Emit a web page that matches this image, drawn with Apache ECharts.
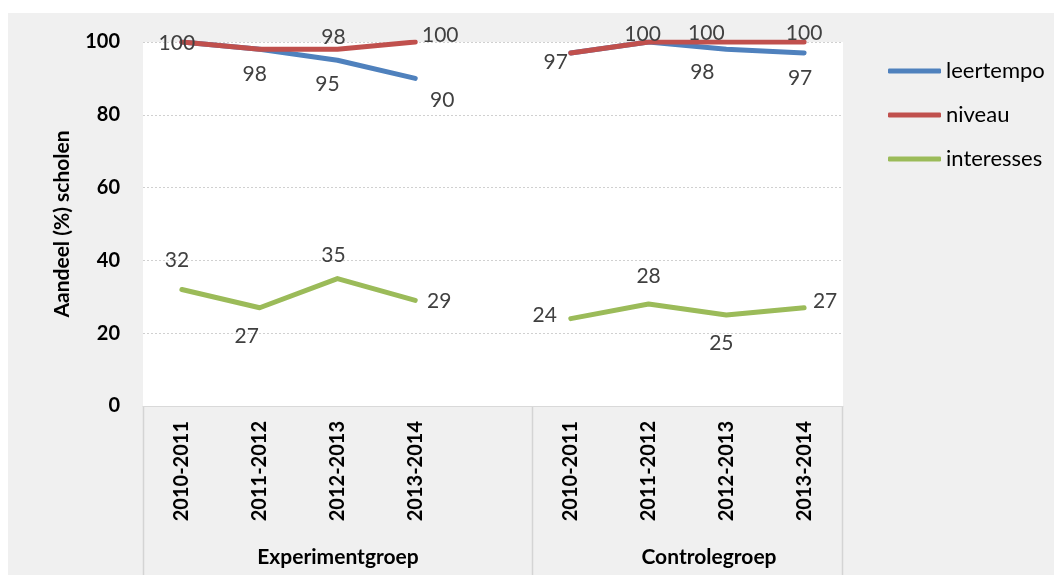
<!DOCTYPE html>
<html><head><meta charset="utf-8">
<script src="https://cdn.jsdelivr.net/npm/echarts@6/dist/echarts.min.js"></script>
<style>
html,body{margin:0;padding:0;background:#fff}
#bg{position:absolute;left:8px;top:13px;width:1046px;height:562px;background:#f0f0f0}
#c{position:absolute;left:0;top:0;width:1054px;height:578px}
</style>
</head><body><div id="bg"></div><div id="c"></div>
<script>
// ---- data ----
const categories = ['2010-2011','2011-2012','2012-2013','2013-2014','','2010-2011','2011-2012','2012-2013','2013-2014'];
const groups = ['Experimentgroep','Controlegroep'];
const seriesNames = ['leertempo','niveau','interesses'];
const leertempo  = [100, 98, 95, 90, null, 97, 100, 98, 97];
const niveau     = [100, 98, 98, 100, null, 97, 100, 100, 100];
const interesses = [32, 27, 35, 29, null, 24, 28, 25, 27];
const yTicks = [0, 20, 40, 60, 80, 100];
const yTitle = 'Aandeel (%) scholen';

// ---- label placement (layout only) ----
const leertempoLbl  = [null, [-5,25], [-10,24], [27,22], null, null, null, [-24,23], [-4,25]];
const niveauLbl     = [[-5,1], null, [-4,-12], [25,-7], null, [-15,9], [-6,-8], [-20,-9], [0,-9]];
const interessesLbl = [[-5,-29], [-13,29], [-4,-23], [24,1], null, [-26,-3], [0,-28], [-5,28], [21,-6]];

const colors = ['#4F81BD', '#C0504D', '#9BBB59'];
const FONT = 'Lato, "Open Sans", sans-serif';

function mk(vals, offs) {
  return vals.map((v, i) => {
    if (v === null) return '-';
    const o = offs[i];
    return { value: v, label: o ? { show: true, offset: o } : { show: false } };
  });
}

const chart = echarts.init(document.getElementById('c'));
const seriesData = [mk(leertempo, leertempoLbl), mk(niveau, niveauLbl), mk(interesses, interessesLbl)];

const option = {
  animation: false,
  backgroundColor: 'transparent',
  grid: { left: 143, right: 211, top: 42, bottom: 172, show: true, backgroundColor: '#ffffff', borderWidth: 0 },
  legend: {
    orient: 'vertical', left: 883, top: 55, itemWidth: 53, itemHeight: 5, itemGap: 22,
    icon: 'roundRect',
    data: seriesNames.map((n, i) => ({ name: n, itemStyle: { color: colors[i] } })),
    textStyle: { fontFamily: FONT, fontSize: 22, color: '#000' }
  },
  xAxis: {
    type: 'category', data: categories, boundaryGap: true,
    axisLine: { show: true, lineStyle: { color: '#d9d9d9', width: 1 } },
    axisTick: { show: false },
    axisLabel: { interval: 0, rotate: 90, margin: 15, fontFamily: FONT, fontWeight: 'bold', fontSize: 20, color: '#000' },
    splitLine: { show: false }
  },
  yAxis: {
    type: 'value', min: yTicks[0], max: yTicks[yTicks.length - 1], interval: 20,
    name: yTitle, nameLocation: 'middle', nameRotate: 90, nameGap: 70,
    nameTextStyle: { fontFamily: FONT, fontWeight: 'bold', fontSize: 21, color: '#000' },
    axisLine: { show: false }, axisTick: { show: false },
    axisLabel: { margin: 23, fontFamily: FONT, fontWeight: 'bold', fontSize: 20, color: '#000' },
    splitLine: { show: true, lineStyle: { color: '#d0d0d0', width: 1, type: [2, 2] } }
  },
  series: seriesNames.map((n, i) => ({
    name: n, type: 'line', data: seriesData[i],
    connectNulls: false,
    symbol: 'circle', symbolSize: 0.5, showSymbol: true,
    itemStyle: { color: colors[i] },
    lineStyle: { color: colors[i], width: 5, cap: 'round', join: 'round' },
    label: { show: true, position: 'inside', fontFamily: FONT, fontSize: 21, color: '#404040',
      formatter: p => String(p.value) },
    emphasis: { disabled: true },
    z: 2 + i
  })),
  graphic: [
    { type: 'line', shape: { x1: 143.5, y1: 406, x2: 143.5, y2: 575 }, style: { stroke: '#d4d4d4', lineWidth: 1.5 }, silent: true },
    { type: 'line', shape: { x1: 532.5, y1: 406, x2: 532.5, y2: 575 }, style: { stroke: '#d4d4d4', lineWidth: 1.5 }, silent: true },
    { type: 'line', shape: { x1: 842.5, y1: 406, x2: 842.5, y2: 575 }, style: { stroke: '#d4d4d4', lineWidth: 1.5 }, silent: true },
    { type: 'text', x: 338, y: 557, style: { text: groups[0], fontFamily: FONT, fontWeight: 'bold', fontSize: 21, fill: '#000', textAlign: 'center', textVerticalAlign: 'middle' }, silent: true },
    { type: 'text', x: 709, y: 557, style: { text: groups[1], fontFamily: FONT, fontWeight: 'bold', fontSize: 21, fill: '#000', textAlign: 'center', textVerticalAlign: 'middle' }, silent: true }
  ]
};
chart.setOption(option);
</script>
</body></html>
